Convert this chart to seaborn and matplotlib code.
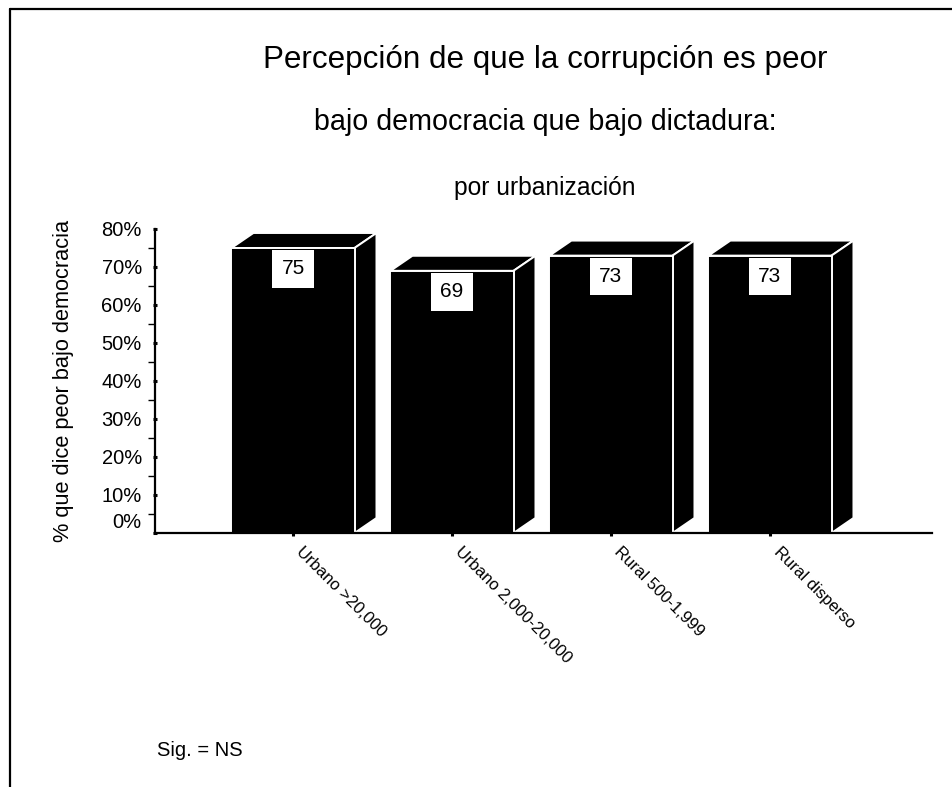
import matplotlib
matplotlib.use("Agg")
import matplotlib.pyplot as plt
from matplotlib.patches import Polygon
from matplotlib.lines import Line2D
from matplotlib.transforms import ScaledTranslation
import seaborn as sns
import pandas as pd

# Data
categories = ["Urbano >20,000", "Urbano 2,000-20,000", "Rural 500-1,999", "Rural disperso"]
values = [75, 69, 73, 73]
y_ticks = [0, 10, 20, 30, 40, 50, 60, 70, 80]
y_tick_labels = [f"{v}%" for v in y_ticks]

title_lines = [
    "Percepción de que la corrupción es peor",
    "bajo democracia que bajo dictadura:",
    "por urbanización",
]
y_label = "% que dice peor bajo democracia"
note = "Sig. = NS"

sns.set_style("white")
plt.rcParams["font.family"] = ["Liberation Sans", "DejaVu Sans"]
plt.rcParams.update({
    "text.color": "black",
    "axes.labelcolor": "black",
    "xtick.color": "black",
    "ytick.color": "black",
})

W, H, DPI = 952, 787, 100
fig = plt.figure(figsize=(W / DPI, H / DPI), dpi=DPI)

# axes box in pixel terms
ax_left, ax_right, ax_top, ax_bottom = 155, 932, 229, 533
ax = fig.add_axes([ax_left / W, 1 - ax_bottom / H,
                   (ax_right - ax_left) / W, (ax_bottom - ax_top) / H])

df = pd.DataFrame({"cat": categories, "val": values})
sns.barplot(data=df, x="cat", y="val", color="black", saturation=1,
            width=0.774, edgecolor="white", linewidth=1.4, ax=ax, zorder=3)

ax.set_xlim(-0.868, 4.019)
ax.set_ylim(0, 80)

# extrude each bar into a box: top face and right side face
depth_x = 0.138
depth_y = 3.95
for bar in ax.patches[:len(values)]:
    x0 = bar.get_x()
    w = bar.get_width()
    h = bar.get_height()
    top = Polygon([(x0, h), (x0 + depth_x, h + depth_y),
                   (x0 + w + depth_x, h + depth_y), (x0 + w, h)],
                  closed=True, facecolor="black", edgecolor="white",
                  linewidth=1.4, zorder=2, clip_on=False)
    side = Polygon([(x0 + w, 0), (x0 + w + depth_x, depth_y),
                    (x0 + w + depth_x, h + depth_y), (x0 + w, h)],
                   closed=True, facecolor="black", edgecolor="white",
                   linewidth=1.4, zorder=2, clip_on=False)
    ax.add_patch(top)
    ax.add_patch(side)
    ax.annotate(f"{h:.0f}", xy=(x0 + w / 2, h), xytext=(0, -21),
                textcoords="offset pixels", ha="center", va="center",
                fontsize=15, color="black", zorder=5,
                bbox=dict(boxstyle="square,pad=0.45", facecolor="white",
                          edgecolor="none"))

# spines
for s in ["top", "right"]:
    ax.spines[s].set_visible(False)
for s in ["left", "bottom"]:
    ax.spines[s].set_linewidth(1.6)
    ax.spines[s].set_color("black")
    ax.spines[s].set_zorder(4)

# y axis ticks
ax.set_yticks(y_ticks)
ax.set_yticklabels(y_tick_labels, fontsize=14.5)
ax.set_yticks([5, 15, 25, 35, 45, 55, 65, 75], minor=True)
ax.tick_params(axis="y", which="major", direction="inout", length=3,
               width=2.2, pad=8, color="black", left=True)
ax.tick_params(axis="y", which="minor", direction="out", length=5,
               width=1, color="black", left=True)
zero_lbl = ax.get_yticklabels()[0]
zero_lbl.set_transform(zero_lbl.get_transform() +
                       ScaledTranslation(0, 12 / DPI, fig.dpi_scale_trans))

# x axis ticks and rotated category labels
ax.set_xticks(range(len(categories)))
ax.set_xticklabels(categories, rotation=-45, ha="left", va="center",
                   rotation_mode="anchor", fontsize=12)
ax.tick_params(axis="x", which="major", direction="out", length=2,
               width=2.2, pad=10, color="black", bottom=True)
for lbl in ax.get_xticklabels():
    lbl.set_transform(lbl.get_transform() +
                      ScaledTranslation(6 / DPI, 0, fig.dpi_scale_trans))

ax.set_xlabel("")
ax.set_ylabel(y_label, fontsize=15.7)
ax.yaxis.set_label_coords((74 - ax_left) / (ax_right - ax_left), 0.5)

# titles
fig.text(545 / W, 1 - 68 / H, title_lines[0], ha="center", va="baseline",
         fontsize=22.6)
fig.text(545 / W, 1 - 130 / H, title_lines[1], ha="center", va="baseline",
         fontsize=20.6)
fig.text(545 / W, 1 - 195 / H, title_lines[2], ha="center", va="baseline",
         fontsize=17.7)

# significance note
fig.text(157 / W, 1 - 756 / H, note, ha="left", va="baseline", fontsize=14.5)

# outer frame (top and left edges)
fig.add_artist(Line2D([10 / W, 1.0], [1 - 9 / H, 1 - 9 / H], color="black",
                      linewidth=1.6, transform=fig.transFigure))
fig.add_artist(Line2D([10 / W, 10 / W], [1 - 9 / H, 0.0], color="black",
                      linewidth=1.6, transform=fig.transFigure))

fig.savefig("out.png", dpi=DPI, facecolor="white")
